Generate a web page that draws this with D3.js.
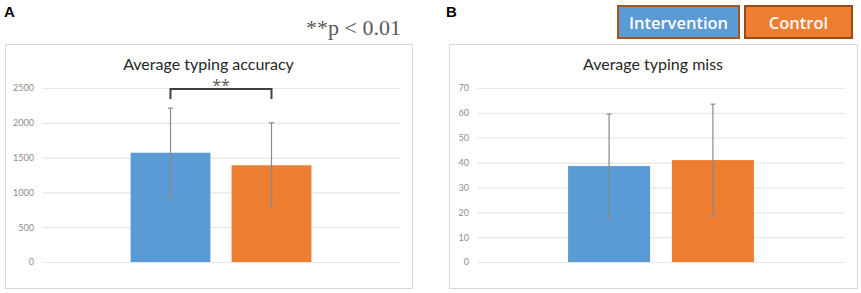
<!DOCTYPE html>
<html>
<head>
<meta charset="utf-8">
<script src="https://cdn.jsdelivr.net/npm/d3@7"></script>
<style>
  body { margin: 0; background: #fff; }
  svg { display: block; }
</style>
</head>
<body>
<svg id="chart" width="861" height="293"></svg>
<script>
// data
const series = ["Intervention", "Control"];
const seriesColors = ["#5b9bd5", "#ed7d31"];
const legendBorders = ["#a5541b", "#9c4a14"];

const accuracyMeans = [1570, 1390];
const accuracyErr = [640, 610];
const accuracyTicks = [0, 500, 1000, 1500, 2000, 2500];

const missMeans = [38.6, 41.0];
const missErr = [20.9, 22.5];
const missTicks = [0, 10, 20, 30, 40, 50, 60, 70];

const svg = d3.select("#chart");
const font = "Lato, 'Open Sans', sans-serif";

function drawPanel(opts) {
  const { box, plot, title, means, errs, ticks, yMax } = opts;

  // outer chart frame
  svg.append("rect")
    .attr("x", box.x + 0.5).attr("y", box.y + 0.5)
    .attr("width", box.w).attr("height", box.h)
    .attr("fill", "#fff")
    .attr("stroke", "#d9d9d9");

  svg.append("text")
    .attr("x", box.x + box.w / 2 + (opts.titleShift || 0))
    .attr("y", box.y + 26)
    .attr("text-anchor", "middle")
    .attr("font-family", font)
    .attr("font-size", 16)
    .attr("fill", "#262626")
    .text(title);

  const g = svg.append("g").attr("transform", `translate(${plot.x},${plot.y})`);

  const y = d3.scaleLinear().domain([0, yMax]).range([plot.h, 0]);

  // one category, two series (Excel clustered column)
  const x0 = d3.scaleBand().domain(["all"]).range([0, plot.w]).paddingOuter(0.49);
  const x1 = d3.scaleBand().domain(series).range([0, x0.bandwidth()]).paddingInner(0.21);

  // gridlines + tick labels
  const yAxis = d3.axisLeft(y).tickValues(ticks).tickSize(-plot.w).tickPadding(8)
    .tickFormat(d3.format("d"));
  g.append("g")
    .call(yAxis)
    .call(a => {
      a.select(".domain").remove();
      a.selectAll(".tick line").attr("stroke", "#e8e8e8").attr("stroke-width", 1.2);
      a.selectAll("text")
        .attr("fill", "#8c8c8c")
        .attr("font-family", font)
        .attr("font-size", 9);
    });

  const bars = g.append("g").attr("transform", `translate(${x0("all")},0)`);

  bars.selectAll("rect")
    .data(series)
    .enter()
    .append("rect")
    .attr("x", d => x1(d))
    .attr("width", x1.bandwidth())
    .attr("y", (d, i) => y(means[i]))
    .attr("height", (d, i) => y(0) - y(means[i]))
    .attr("fill", (d, i) => seriesColors[i]);

  // error bars
  const eb = bars.selectAll(".err")
    .data(series)
    .enter()
    .append("g")
    .attr("class", "err")
    .attr("stroke", "#8a8a8a")
    .attr("stroke-width", 1.2);
  const cx = d => x1(d) + x1.bandwidth() / 2;
  eb.append("line")
    .attr("x1", cx).attr("x2", cx)
    .attr("y1", (d, i) => y(means[i] + errs[i]))
    .attr("y2", (d, i) => y(means[i] - errs[i]));
  eb.append("line")
    .attr("x1", d => cx(d) - 2.5).attr("x2", d => cx(d) + 2.5)
    .attr("y1", (d, i) => y(means[i] + errs[i]))
    .attr("y2", (d, i) => y(means[i] + errs[i]));
  eb.append("line")
    .attr("x1", d => cx(d) - 2.5).attr("x2", d => cx(d) + 2.5)
    .attr("y1", (d, i) => y(means[i] - errs[i]))
    .attr("y2", (d, i) => y(means[i] - errs[i]));

  return { g, x0, x1, y };
}

// ---- Panel A ----
const A = drawPanel({
  box: { x: 5, y: 44, w: 407, h: 244 },
  plot: { x: 42, y: 88, w: 358, h: 174 },
  title: "Average typing accuracy",
  means: accuracyMeans,
  errs: accuracyErr,
  ticks: accuracyTicks,
  yMax: 2500
});

// significance bracket between the two bars
{
  const cx = d => A.x0("all") + A.x1(d) + A.x1.bandwidth() / 2;
  const top = A.y(2500) + 1;
  const bottom = top + 10;
  A.g.append("path")
    .attr("d", `M${cx(series[0])},${bottom}V${top}H${cx(series[1])}V${bottom}`)
    .attr("fill", "none")
    .attr("stroke", "#404040")
    .attr("stroke-width", 2);
  A.g.append("text")
    .attr("x", (cx(series[0]) + cx(series[1])) / 2)
    .attr("y", top + 2)
    .attr("text-anchor", "middle")
    .attr("font-family", "'Open Sans', sans-serif")
    .attr("font-size", 16)
    .attr("fill", "#595959")
    .text("**");
}

svg.append("text")
  .attr("x", 401).attr("y", 35)
  .attr("text-anchor", "end")
  .attr("font-family", "'Liberation Serif', 'DejaVu Serif', serif")
  .attr("font-size", 22)
  .attr("fill", "#595959")
  .text("**p < 0.01");

svg.append("text")
  .attr("x", 4).attr("y", 17)
  .attr("font-family", "'Liberation Sans', Arial, sans-serif")
  .attr("font-weight", "bold")
  .attr("font-size", 15)
  .attr("fill", "#000")
  .text("A");

// ---- Panel B ----
drawPanel({
  box: { x: 449, y: 44, w: 408, h: 244 },
  plot: { x: 477, y: 88, w: 368, h: 174 },
  title: "Average typing miss",
  means: missMeans,
  errs: missErr,
  ticks: missTicks,
  yMax: 70
});

svg.append("text")
  .attr("x", 446).attr("y", 17)
  .attr("font-family", "'Liberation Sans', Arial, sans-serif")
  .attr("font-weight", "bold")
  .attr("font-size", 15)
  .attr("fill", "#000")
  .text("B");

// legend boxes
const legendX = [617, 744];
const legendW = [123, 109];
const legend = svg.selectAll(".legend")
  .data(series)
  .enter()
  .append("g")
  .attr("class", "legend");
legend.append("rect")
  .attr("x", (d, i) => legendX[i] + 1)
  .attr("y", 6)
  .attr("width", (d, i) => legendW[i] - 2)
  .attr("height", 32)
  .attr("fill", (d, i) => seriesColors[i])
  .attr("stroke", (d, i) => legendBorders[i])
  .attr("stroke-width", 2);
legend.append("text")
  .attr("x", (d, i) => legendX[i] + legendW[i] / 2)
  .attr("y", 29)
  .attr("text-anchor", "middle")
  .attr("font-family", "'Open Sans', Lato, sans-serif")
  .attr("font-weight", 600)
  .attr("font-size", 16.5)
  .attr("fill", "#fff")
  .text(d => d);
</script>
</body>
</html>
